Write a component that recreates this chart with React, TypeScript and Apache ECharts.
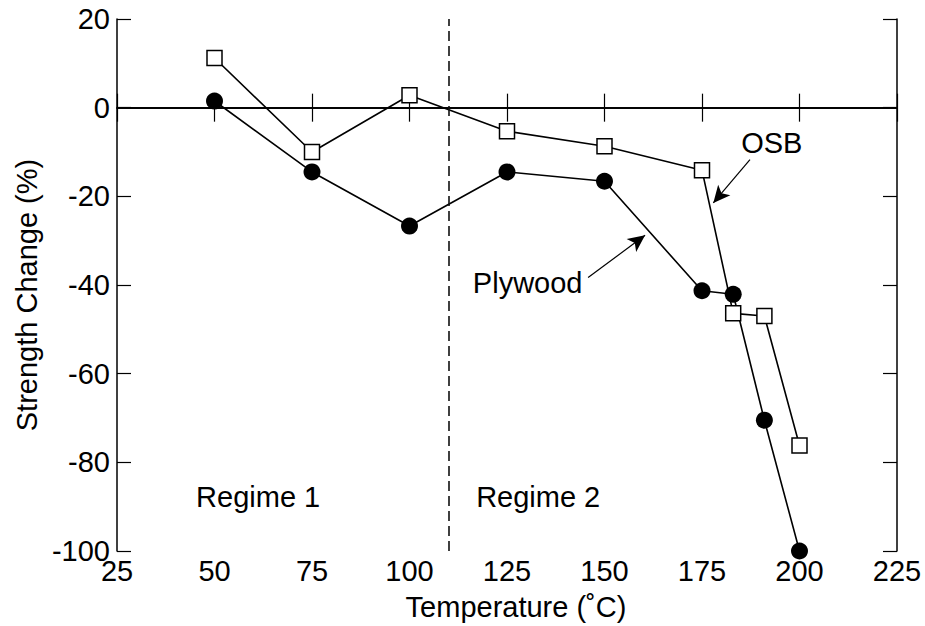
import React, { useEffect, useRef } from "react";
import * as echarts from "echarts";

// Temperatures (°C) at which strength was measured
const temperatures = [50, 75, 100, 125, 150, 175, 183, 191, 200];
// Strength change (%) for each panel type
const osbChange = [11.2, -10, 2.8, -5.3, -8.7, -14.1, -46.4, -47, -76.2];
const plywoodChange = [1.5, -14.5, -26.7, -14.5, -16.6, -41.3, -42.1, -70.5, -100];

const xTicks = { min: 25, max: 225, interval: 25 };
const yTicks = { min: -100, max: 20, interval: 20 };
const regimeBoundary = 110;

const FONT = "Liberation Sans, Arial, Helvetica, sans-serif";
const FS = 29;

export default function App() {
  const ref = useRef<HTMLDivElement>(null);

  useEffect(() => {
    if (!ref.current) return;
    const chart = echarts.init(ref.current, undefined, { renderer: "svg" });
    const pair = (xs: number[], ys: number[]) => xs.map((x, i) => [x, ys[i]]);

    const axisLine = { show: true, lineStyle: { color: "#000", width: 1.5 } };
    const axisTick = { show: true, inside: true, length: 14, lineStyle: { color: "#000", width: 1.2 } };

    chart.setOption({
      animation: false,
      backgroundColor: "#fff",
      textStyle: { fontFamily: FONT, color: "#000" },
      grid: { left: 117, right: 28, top: 19, bottom: 75, containLabel: false },
      xAxis: [
        {
          type: "value",
          ...xTicks,
          position: "bottom",
          axisLine,
          axisTick,
          splitLine: { show: false },
          axisLabel: { color: "#000", fontSize: FS, fontFamily: FONT, margin: 5 },
          name: "Temperature (˚C)",
          nameLocation: "middle",
          nameGap: 41,
          nameTextStyle: { color: "#000", fontSize: FS, fontFamily: FONT, padding: [0, 0, 0, 18] },
        },
        {
          type: "value",
          ...xTicks,
          position: "top",
          axisLine,
          axisTick,
          splitLine: { show: false },
          axisLabel: { show: false },
        },
      ],
      yAxis: [
        {
          type: "value",
          ...yTicks,
          position: "left",
          axisLine,
          axisTick,
          splitLine: { show: false },
          axisLabel: { color: "#000", fontSize: FS, fontFamily: FONT, margin: 7 },
          name: "Strength Change (%)",
          nameLocation: "middle",
          nameGap: 76,
          nameTextStyle: { color: "#000", fontSize: FS, fontFamily: FONT, padding: [0, 20, 0, 0] },
        },
        {
          type: "value",
          ...yTicks,
          position: "right",
          axisLine,
          axisTick,
          splitLine: { show: false },
          axisLabel: { show: false },
        },
      ],
      series: [
        {
          name: "Plywood",
          type: "line",
          data: pair(temperatures, plywoodChange),
          symbol: "circle",
          symbolSize: 17,
          clip: false,
          z: 3,
          lineStyle: { color: "#000", width: 1.6 },
          itemStyle: { color: "#000", borderWidth: 0 },
          markLine: {
            silent: true,
            symbol: ["none", "none"],
            label: { show: false },
            data: [
              { yAxis: 0, lineStyle: { color: "#000", width: 1.5, type: "solid" } },
              { xAxis: regimeBoundary, lineStyle: { color: "#111", width: 1.6, type: [10, 5] } },
              [
                { coord: [145.8, -38.3], symbol: "none", lineStyle: { color: "#000", width: 1.2, type: "solid" } },
                { coord: [160.4, -28.8], symbol: "arrow", symbolSize: [12, 17] },
              ],
              [
                { coord: [187.3, -11.7], symbol: "none", lineStyle: { color: "#000", width: 1.2, type: "solid" } },
                { coord: [177.9, -21.5], symbol: "arrow", symbolSize: [12, 17] },
              ],
            ],
          },
          markPoint: {
            silent: true,
            symbol: "circle",
            symbolSize: 0,
            label: { show: true, color: "#000", fontSize: FS, fontFamily: FONT, position: "inside" },
            data: [
              { coord: [61.2, -87.9], label: { formatter: "Regime 1" } },
              { coord: [133, -87.9], label: { formatter: "Regime 2" } },
              { coord: [130.3, -39.5], label: { formatter: "Plywood" } },
              { coord: [192.9, -7.9], label: { formatter: "OSB" } },
            ],
          },
        },
        {
          name: "OSB",
          type: "line",
          data: pair(temperatures, osbChange),
          symbol: "rect",
          symbolSize: 15,
          clip: false,
          z: 4,
          lineStyle: { color: "#000", width: 1.6 },
          itemStyle: { color: "#fff", borderColor: "#000", borderWidth: 1.5 },
        },
      ],
    });

    return () => chart.dispose();
  }, []);

  return (
    <div
      ref={ref}
      style={{ position: "fixed", left: 0, top: 0, width: 925, height: 626, background: "#fff" }}
    />
  );
}
